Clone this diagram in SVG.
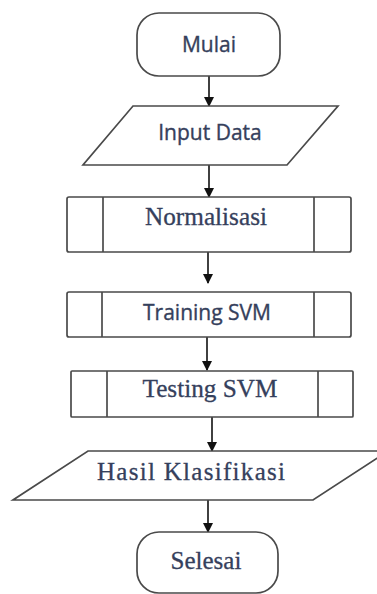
<svg xmlns="http://www.w3.org/2000/svg" width="377" height="594" viewBox="0 0 377 594">
<defs>
<style>
.shape{fill:#fff;stroke:#4a4a4a;stroke-width:1.7}
.inner{stroke:#4a4a4a;stroke-width:1.7}
.sans{font-family:"Open Sans","Liberation Sans",sans-serif;font-size:21px;fill:#35405c;stroke:#35405c;stroke-width:0.35;text-anchor:middle}
.serif{font-family:"Liberation Serif","Times New Roman",serif;font-size:25px;fill:#35405c;stroke:#35405c;stroke-width:0.3;text-anchor:middle}
.conn{stroke:#111;stroke-width:1.6;fill:none;marker-end:url(#ah)}
</style>
<marker id="ah" markerWidth="10" markerHeight="10" refX="9" refY="5" orient="auto" markerUnits="userSpaceOnUse">
<path d="M0,0 L10,5 L0,10 z" fill="#111"/>
</marker>
</defs>
<rect width="377" height="594" fill="#fff"/>
<g id="connectors">
<line class="conn" x1="209" y1="76" x2="209" y2="106"/>
<line class="conn" x1="209" y1="165" x2="209" y2="197"/>
<line class="conn" x1="208" y1="252" x2="208" y2="283"/>
<line class="conn" x1="207" y1="337" x2="207" y2="370"/>
<line class="conn" x1="212" y1="417" x2="212" y2="451"/>
<line class="conn" x1="208" y1="500" x2="208" y2="532"/>
</g>
<g id="mulai">
<rect class="shape" x="137" y="13" width="143" height="63" rx="22" ry="22"/>
<text class="sans" x="209" y="52">Mulai</text>
</g>
<g id="input-data">
<polygon class="shape" points="133,106 338,106 287,165 83,165"/>
<text class="sans" x="210" y="140">Input Data</text>
</g>
<g id="normalisasi">
<rect class="shape" x="67" y="197" width="284" height="55" rx="2"/>
<line class="inner" x1="103" y1="197" x2="103" y2="252"/>
<line class="inner" x1="314" y1="197" x2="314" y2="252"/>
<text class="serif" x="206" y="225" textLength="122" lengthAdjust="spacingAndGlyphs">Normalisasi</text>
</g>
<g id="training-svm">
<rect class="shape" x="67" y="292" width="284" height="45" rx="2"/>
<line class="inner" x1="102" y1="292" x2="102" y2="337"/>
<line class="inner" x1="314" y1="292" x2="314" y2="337"/>
<text class="sans" x="207" y="320">Training SVM</text>
</g>
<g id="testing-svm">
<rect class="shape" x="71" y="371" width="282" height="46" rx="1"/>
<line class="inner" x1="107" y1="371" x2="107" y2="417"/>
<line class="inner" x1="318" y1="371" x2="318" y2="417"/>
<text class="serif" x="210" y="397" textLength="135" lengthAdjust="spacingAndGlyphs">Testing SVM</text>
</g>
<g id="hasil-klasifikasi">
<polygon class="shape" points="88,451 388,451 313,500 13,500"/>
<text class="serif" x="191" y="480" textLength="188" lengthAdjust="spacing">Hasil Klasifikasi</text>
</g>
<g id="selesai">
<rect class="shape" x="137" y="532" width="141" height="61" rx="22" ry="22"/>
<text class="serif" x="206" y="569">Selesai</text>
</g>
</svg>
